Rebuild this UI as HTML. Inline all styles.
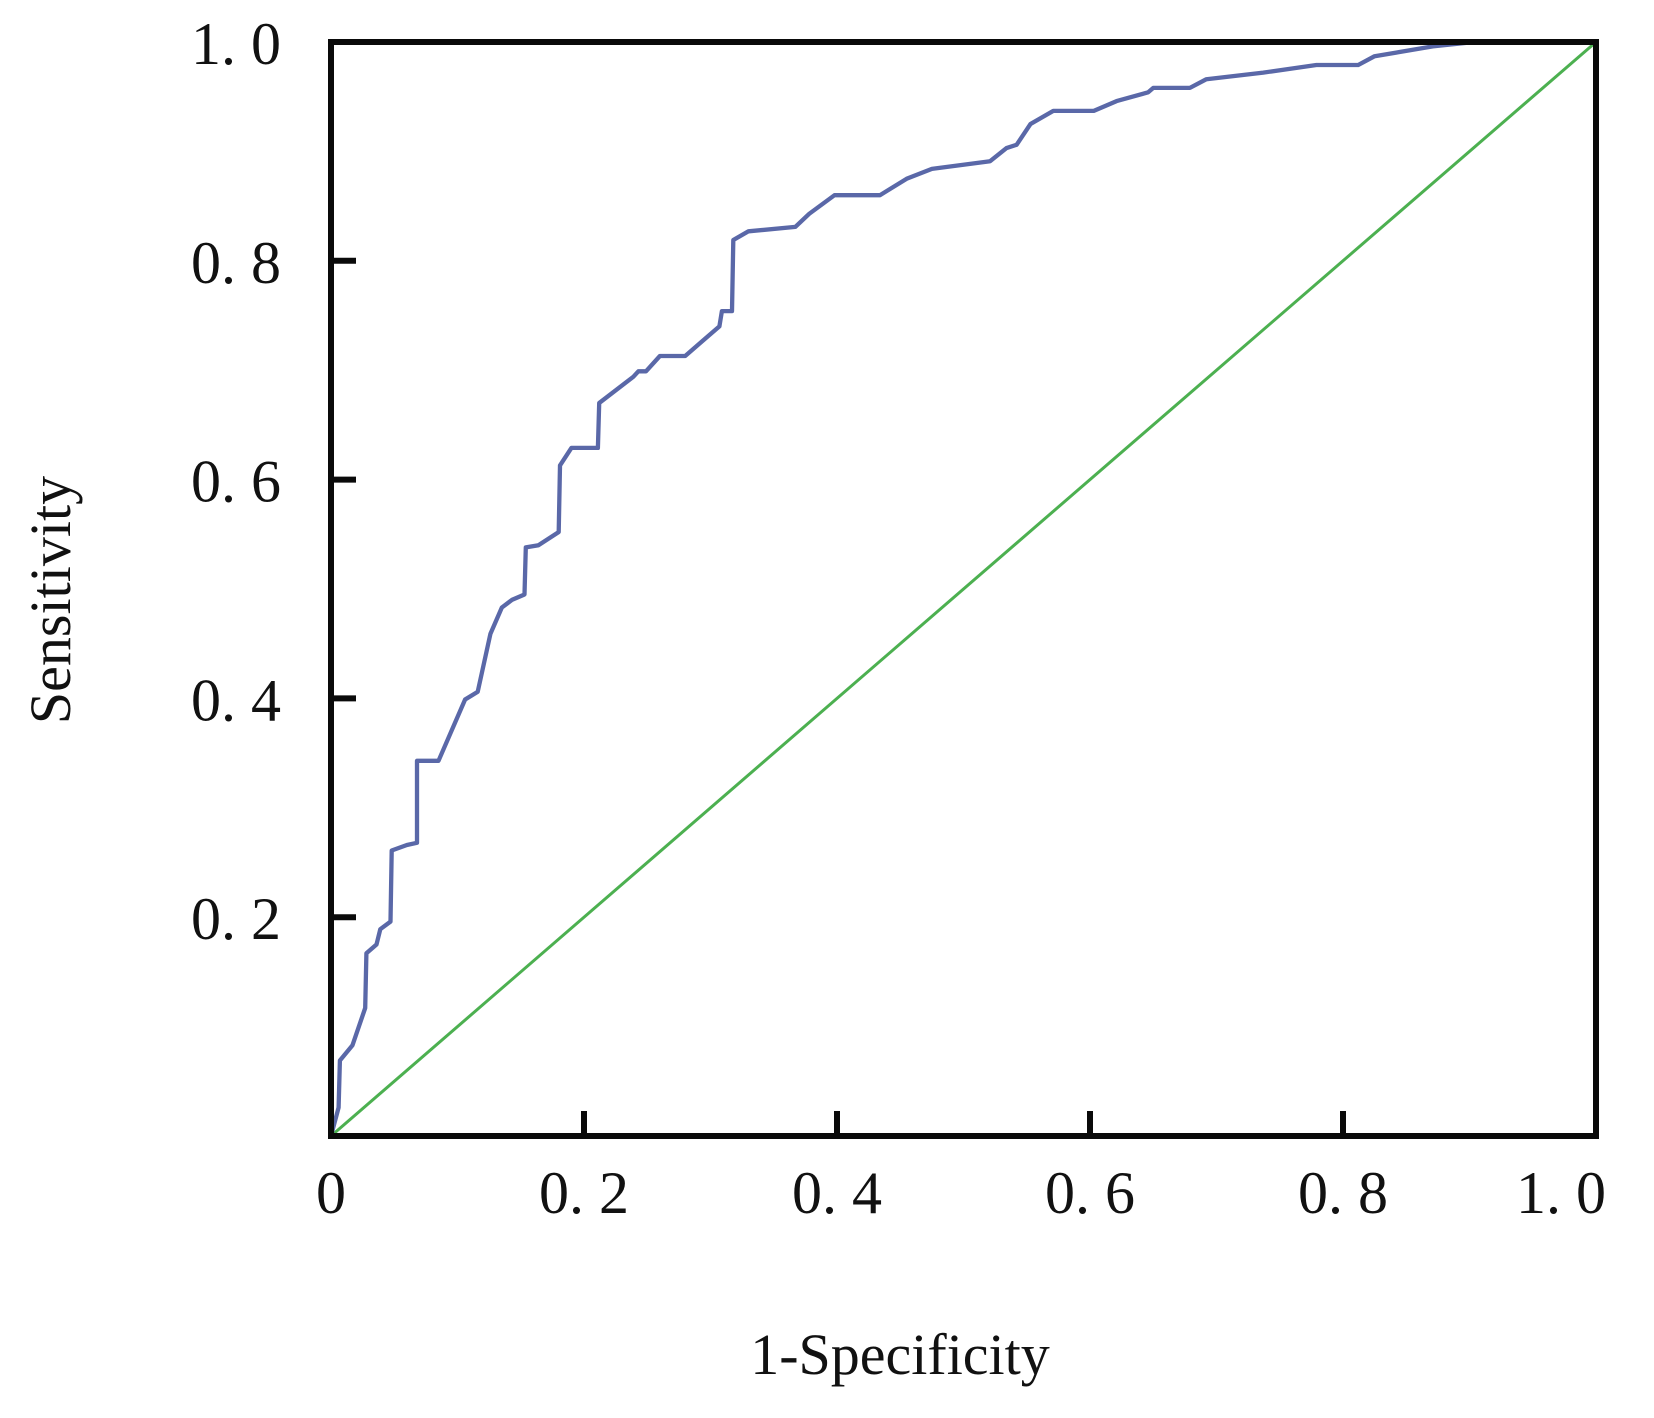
<!DOCTYPE html>
<html><head><meta charset="utf-8"><style>
html,body{margin:0;padding:0;background:#fff;}
svg{display:block;}
text{font-family:"Liberation Serif","Noto Serif CJK SC",serif;fill:#111;}
</style></head><body>
<svg id="chart" width="1654" height="1418" viewBox="0 0 1654 1418">
<g id="plot"></g>
</svg>
<script>
const fprValues=[0,0.006,0.007,0.017,0.027,0.028,0.036,0.039,0.047,0.048,0.06,0.068,0.068,0.085,0.106,0.116,0.126,0.135,0.143,0.153,0.154,0.164,0.18,0.181,0.19,0.211,0.212,0.239,0.243,0.249,0.26,0.28,0.293,0.307,0.309,0.317,0.318,0.33,0.367,0.378,0.398,0.434,0.455,0.475,0.521,0.534,0.542,0.553,0.571,0.603,0.621,0.646,0.65,0.679,0.692,0.737,0.779,0.812,0.825,0.871,0.904,1];
const tprValues=[0,0.026,0.069,0.083,0.117,0.167,0.175,0.189,0.196,0.261,0.266,0.268,0.343,0.343,0.399,0.406,0.459,0.483,0.49,0.495,0.538,0.54,0.552,0.613,0.629,0.629,0.67,0.694,0.699,0.699,0.713,0.713,0.726,0.74,0.754,0.754,0.819,0.827,0.831,0.843,0.86,0.86,0.875,0.884,0.891,0.903,0.906,0.925,0.937,0.937,0.946,0.954,0.958,0.958,0.966,0.972,0.979,0.979,0.987,0.996,1,1];
const refX=[0,1];
const refY=[0,1];
const xTicks=[0,0.2,0.4,0.6,0.8,1.0];
const xTickLabels=["0","0. 2","0. 4","0. 6","0. 8","1. 0"];
const yTicks=[0.2,0.4,0.6,0.8,1.0];
const yTickLabels=["0. 2","0. 4","0. 6","0. 8","1. 0"];

const X0=331,X1=1596,Y0=1136,Y1=42;
const sx=v=>X0+(X1-X0)*v;
const sy=v=>Y0-(Y0-Y1)*v;
const NS="http://www.w3.org/2000/svg";
const g=document.getElementById('plot');
function mk(tag,attrs){const e=document.createElementNS(NS,tag);for(const k in attrs)e.setAttribute(k,attrs[k]);g.appendChild(e);return e;}

const diag=mk('path',{d:refX.map((v,i)=>(i?'L':'M')+sx(v)+' '+sy(refY[i])).join(' '),fill:'none',stroke:'#4cb050','stroke-width':3});



const roc=mk('path',{d:fprValues.map((v,i)=>(i?'L':'M')+sx(v).toFixed(1)+' '+sy(tprValues[i]).toFixed(1)).join(' '),fill:'none',stroke:'#5a68a8','stroke-width':4.3,'stroke-linejoin':'round'});



const frame=mk('rect',{x:X0,y:Y1,width:X1-X0,height:Y0-Y1,fill:'none',stroke:'#0a0a0a','stroke-width':6});



xTicks.forEach((v,i)=>{
  if(v>0&&v<1){
    const t=mk('line',{x1:sx(v),x2:sx(v),y1:Y0,y2:Y0-25,stroke:'#0a0a0a','stroke-width':6});
    
    
  }
  const last=i===xTicks.length-1;
  const l=mk('text',{x:last?1606:sx(v),y:1213,'font-size':60,'text-anchor':last?'end':'middle'});
  l.textContent=xTickLabels[i];
  
  
});
yTicks.forEach((v,i)=>{
  if(v<1){
    const t=mk('line',{x1:X0,x2:X0+25,y1:sy(v),y2:sy(v),stroke:'#0a0a0a','stroke-width':6});
    
    
  }
  const l=mk('text',{x:281,y:sy(v)+22,'font-size':60,'text-anchor':'end'});
  l.textContent=yTickLabels[i];
  
  
});
const xt=mk('text',{x:900,y:1374,'font-size':58,'text-anchor':'middle'});
xt.textContent='1-Specificity';


const yt=mk('text',{x:0,y:0,'font-size':58,'text-anchor':'middle',transform:'translate(70,600) rotate(-90)'});
yt.textContent='Sensitivity';


</script>
</body></html>
